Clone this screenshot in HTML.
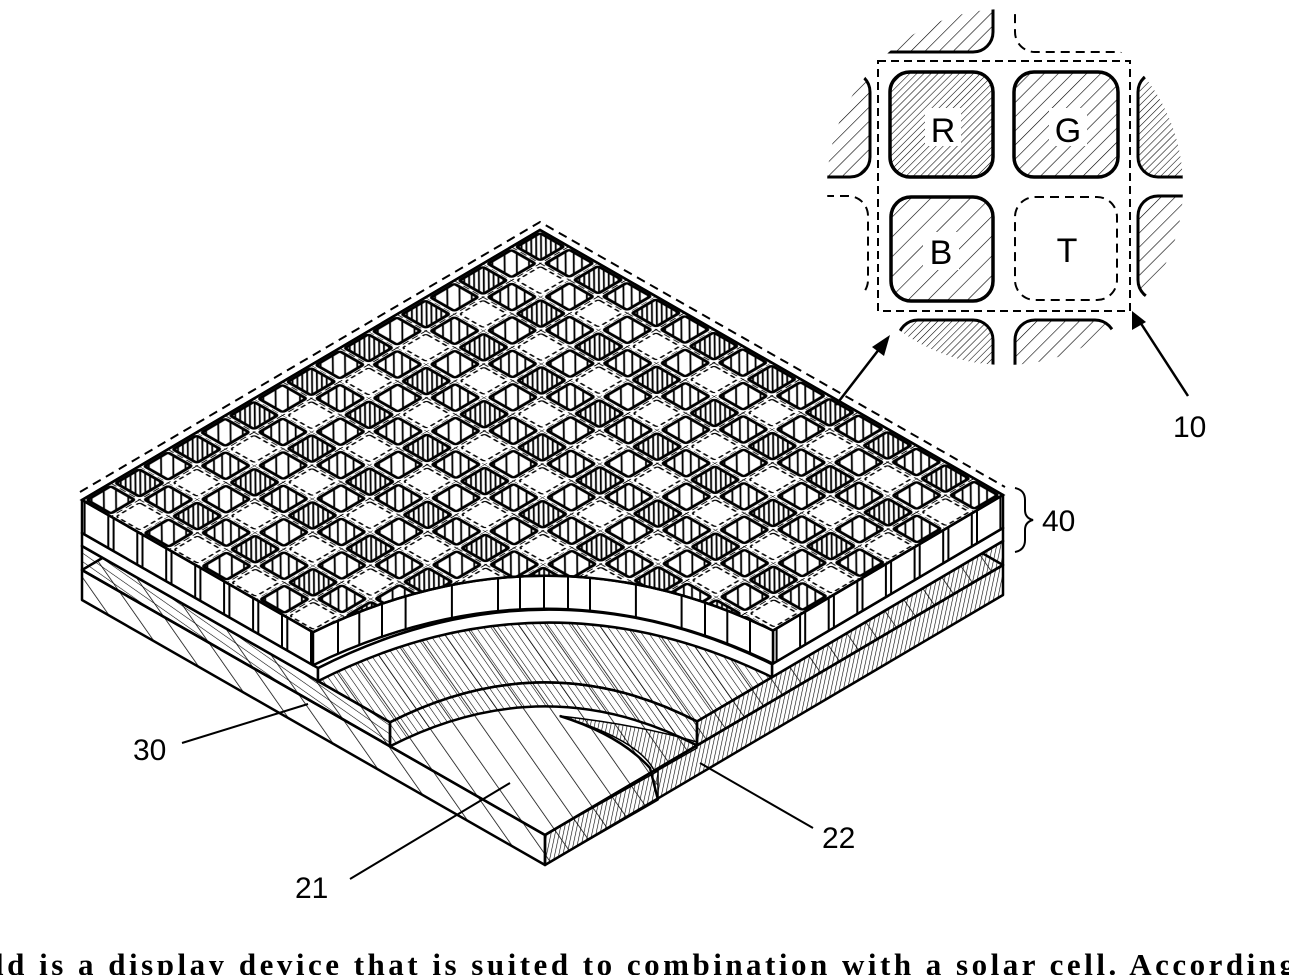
<!DOCTYPE html>
<html><head><meta charset="utf-8"><style>
html,body{margin:0;padding:0;background:#fff;}
svg{display:block;}
</style></head><body>
<svg width="1289" height="975" viewBox="0 0 1289 975" xmlns="http://www.w3.org/2000/svg" font-family="Liberation Sans, sans-serif">
<defs>
<pattern id="iR" width="5" height="5" patternUnits="userSpaceOnUse" patternTransform="rotate(45)"><line x1="0" y1="0" x2="0" y2="5" stroke="#000" stroke-width="1.1"/></pattern>
<pattern id="iG" width="10" height="10" patternUnits="userSpaceOnUse" patternTransform="rotate(45)"><line x1="0" y1="0" x2="0" y2="10" stroke="#000" stroke-width="1.2"/></pattern>
<pattern id="iB" width="14" height="14" patternUnits="userSpaceOnUse" patternTransform="rotate(45)"><line x1="0" y1="0" x2="0" y2="14" stroke="#000" stroke-width="1.2"/></pattern>
<pattern id="h30" width="6" height="6" patternUnits="userSpaceOnUse" patternTransform="rotate(-35)"><line x1="0" y1="0" x2="0" y2="6" stroke="#000" stroke-width="1.1"/></pattern>
<pattern id="hD" width="4" height="4" patternUnits="userSpaceOnUse" patternTransform="rotate(12)"><line x1="0" y1="0" x2="0" y2="4" stroke="#000" stroke-width="1.2"/></pattern>
<pattern id="h21" width="22" height="22" patternUnits="userSpaceOnUse" patternTransform="rotate(-35)"><line x1="0" y1="0" x2="0" y2="22" stroke="#000" stroke-width="1.5"/></pattern>
<pattern id="hL" width="7" height="7" patternUnits="userSpaceOnUse" patternTransform="rotate(-55)"><line x1="0" y1="0" x2="0" y2="7" stroke="#000" stroke-width="1.1"/></pattern>
<pattern id="uR" width="0.12" height="0.12" patternUnits="userSpaceOnUse" patternTransform="rotate(-45)"><rect x="0" y="0" width="0.045" height="0.12" fill="#000"/></pattern>
<pattern id="uG" width="0.2" height="0.2" patternUnits="userSpaceOnUse" patternTransform="rotate(-45)"><rect x="0" y="0" width="0.045" height="0.2" fill="#000"/></pattern>
<pattern id="uB" width="0.3" height="0.3" patternUnits="userSpaceOnUse" patternTransform="rotate(-45)"><rect x="0" y="0" width="0.045" height="0.3" fill="#000"/></pattern>
<pattern id="cellpat" width="2" height="2" patternUnits="userSpaceOnUse">
  <path d="M0,0 H2 M0,1 H2 M0,0 V2 M1,0 V2" stroke="#000" stroke-width="0.03" stroke-dasharray="0.2 0.12" fill="none"/>
  <rect x="0.09" y="0.09" width="0.82" height="0.82" rx="0.07" fill="url(#uR)" stroke="#000" stroke-width="0.1"/>
  <rect x="1.09" y="0.09" width="0.82" height="0.82" rx="0.07" fill="url(#uG)" stroke="#000" stroke-width="0.1"/>
  <rect x="0.09" y="1.09" width="0.82" height="0.82" rx="0.07" fill="url(#uB)" stroke="#000" stroke-width="0.1"/>
  <rect x="1.09" y="1.09" width="0.82" height="0.82" rx="0.07" fill="#fff" stroke="#000" stroke-width="0.05" stroke-dasharray="0.15 0.1"/>
</pattern>
<clipPath id="circ"><circle cx="1005" cy="187" r="178"/></clipPath>
<clipPath id="topclip"><path d="M540,230 L82,500 L313,632.2 Q545,520 773,630.6 L1003,495 Z"/></clipPath>
</defs>

<g stroke="#000" stroke-linejoin="round" stroke-width="2.5">
  <polygon points="540,300 1003,565 545,835 82,570" fill="url(#h21)"/>
  <polygon points="82,570 545,835 545,865 82,600" fill="url(#h21)"/>
  <polygon points="545,835 1003,565 1003,595 545,865" fill="url(#hD)"/>
  <polygon points="545,835 658,771 658,800 545,865" fill="url(#h21)" stroke-width="1.5"/>
  <path d="M560,716 Q640,740 655,772 L697,748 L697,742 Q640,725 560,716 Z" fill="url(#hD)" stroke-width="1.5"/>
  <path d="M560,716 Q620,735 650,768 L658,800" fill="none"/>
  <path d="M540,276 L82,546 L390,722.3 Q545,643 697,721.4 L1003,541 Z" fill="url(#h30)"/>
  <polygon points="82,546 390,722.3 390,746.3 82,570" fill="url(#hL)"/>
  <polygon points="697,721.4 1003,541 1003,565 697,745.4" fill="url(#hD)"/>
  <path d="M390,722.3 Q545,643 697,721.4 L697,745.4 Q545,667 390,746.3 Z" fill="url(#h30)"/>
  <path d="M540,263 L82,533 L318,668.1 Q545,553 772,664.2 L1003,528 Z" fill="#fff"/>
  <polygon points="82,533 318,668.1 318,681.1 82,546" fill="#fff"/>
  <polygon points="772,664.2 1003,528 1003,541 772,677.2" fill="#fff"/>
  <path d="M318,668.1 Q545,553 772,664.2 L772,677.2 Q545,566 318,681.1 Z" fill="#fff"/>
  <path d="M540,230 L82,500 L313,632.2 Q545,520 773,630.6 L1003,495 Z" fill="#fff"/>
  <polygon points="82,500 313,632.2 313,665.2 82,533" fill="#fff"/>
  <polygon points="773,630.6 1003,495 1003,528 773,663.6" fill="#fff"/>
  <path d="M313,632.2 Q545,520 773,630.6 L773,663.6 Q545,553 313,665.2 Z" fill="#fff"/>
</g>
<g clip-path="url(#topclip)">
  <g transform="matrix(28.9375,16.5625,-28.625,16.875,540,230)">
    <rect x="0" y="0" width="16" height="16" fill="url(#cellpat)"/>
  </g>
</g>
<path d="M540,230 L82,500 L313,632.2 Q545,520 773,630.6 L1003,495 Z" fill="none" stroke="#000" stroke-width="2.5"/>
<path stroke="#000" stroke-width="2" fill="none" d="
M84.6,501.5v33 M108.3,515.1v33 M113.6,518.1v33 M137.3,531.6v33 M142.5,534.6v33 M166.2,548.2v33
M171.5,551.2v33 M195.2,564.8v33 M200.4,567.8v33 M224.1,581.3v33 M229.4,584.3v33 M253.1,597.9v33
M258.3,600.9v33 M282,614.5v33 M287.3,617.5v33 M311,631v33
M1000.4,496.5v33 M977,510.3v33 M971.8,513.4v33 M948.4,527.2v33 M943.2,530.2v33 M919.7,544.1v33
M914.6,547.1v33 M891.1,561v33 M885.9,564v33 M862.5,577.8v33 M857.3,580.9v33 M833.9,594.7v33
M828.7,597.8v33 M805.2,611.6v33 M800.1,614.6v33 M776.6,628.5v33
M359.3,612v33 M405.6,596.2v33 M451.9,585v33 M498,578.1v33 M544,575.7v33 M590,577.8v33
M635.9,584.3v33 M681.6,595.3v33 M727.3,610.7v33 M338,620v33 M382,604v33 M520,576.5v33 M568,576.5v33 M705,602v33 M750,620v33"/>
<polyline points="80,492 540,222 1005,487" fill="none" stroke="#000" stroke-width="2" stroke-dasharray="9 6"/>

<g clip-path="url(#circ)" stroke="#000">
  <rect x="868" y="-30" width="125" height="82" rx="20" fill="url(#iG)" stroke-width="3"/>
  <rect x="1015" y="-30" width="125" height="82" rx="20" fill="#fff" stroke-width="2" stroke-dasharray="9 6"/>
  <rect x="790" y="72" width="80" height="105" rx="20" fill="url(#iG)" stroke-width="3"/>
  <rect x="790" y="196" width="78" height="104" rx="20" fill="#fff" stroke-width="2" stroke-dasharray="9 6"/>
  <rect x="1138" y="72" width="80" height="105" rx="20" fill="url(#iR)" stroke-width="3"/>
  <rect x="1138" y="196" width="80" height="104" rx="20" fill="url(#iG)" stroke-width="3"/>
  <rect x="898" y="320" width="95" height="90" rx="20" fill="url(#iR)" stroke-width="3"/>
  <rect x="1015" y="320" width="100" height="90" rx="20" fill="url(#iG)" stroke-width="3"/>
</g>
<rect x="878" y="61" width="252" height="250" fill="none" stroke="#000" stroke-width="2" stroke-dasharray="8 5"/>
<rect x="890" y="72" width="103" height="105" rx="20" fill="url(#iR)" stroke="#000" stroke-width="3.5"/>
<rect x="1014" y="72" width="104" height="105" rx="20" fill="url(#iG)" stroke="#000" stroke-width="3.5"/>
<rect x="891" y="197" width="102" height="104" rx="20" fill="url(#iB)" stroke="#000" stroke-width="3.5"/>
<rect x="1015" y="197" width="102" height="103" rx="20" fill="#fff" stroke="#000" stroke-width="2" stroke-dasharray="9 6"/>
<g font-size="34" text-anchor="middle" fill="#000">
  <rect x="925" y="108" width="36" height="38" fill="#fff"/>
  <text x="943" y="142">R</text>
  <rect x="1049" y="108" width="38" height="38" fill="#fff"/>
  <text x="1068" y="142">G</text>
  <rect x="923" y="232" width="36" height="38" fill="#fff"/>
  <text x="941" y="264">B</text>
  <text x="1067" y="262">T</text>
</g>
<g stroke="#000" stroke-width="2.5" fill="#000">
  <line x1="836" y1="405" x2="880" y2="348"/>
  <polygon points="890,335 872,347 884,356" stroke="none"/>
  <line x1="1188" y1="396" x2="1140" y2="322"/>
  <polygon points="1132,311 1132,330 1146,322" stroke="none"/>
</g>
<text x="1173" y="437" font-size="30" fill="#000">10</text>
<path d="M1015,488 q10,2 10,12 v10 q0,8 8,10 q-8,2 -8,10 v10 q0,10 -10,12" fill="none" stroke="#000" stroke-width="2"/>
<text x="1042" y="531" font-size="30" fill="#000">40</text>
<text x="133" y="760" font-size="30" fill="#000">30</text>
<line x1="182" y1="743" x2="308" y2="704" stroke="#000" stroke-width="2"/>
<text x="295" y="898" font-size="30" fill="#000">21</text>
<line x1="350" y1="879" x2="510" y2="783" stroke="#000" stroke-width="2"/>
<text x="822" y="848" font-size="30" fill="#000">22</text>
<line x1="813" y1="828" x2="700" y2="763" stroke="#000" stroke-width="2"/>
<text x="-5" y="975" font-size="31" font-family="Liberation Serif, serif" font-weight="bold" fill="#000" textLength="1300">ld is a display device that is suited to combination with a solar cell. According</text>
</svg>
</body></html>
